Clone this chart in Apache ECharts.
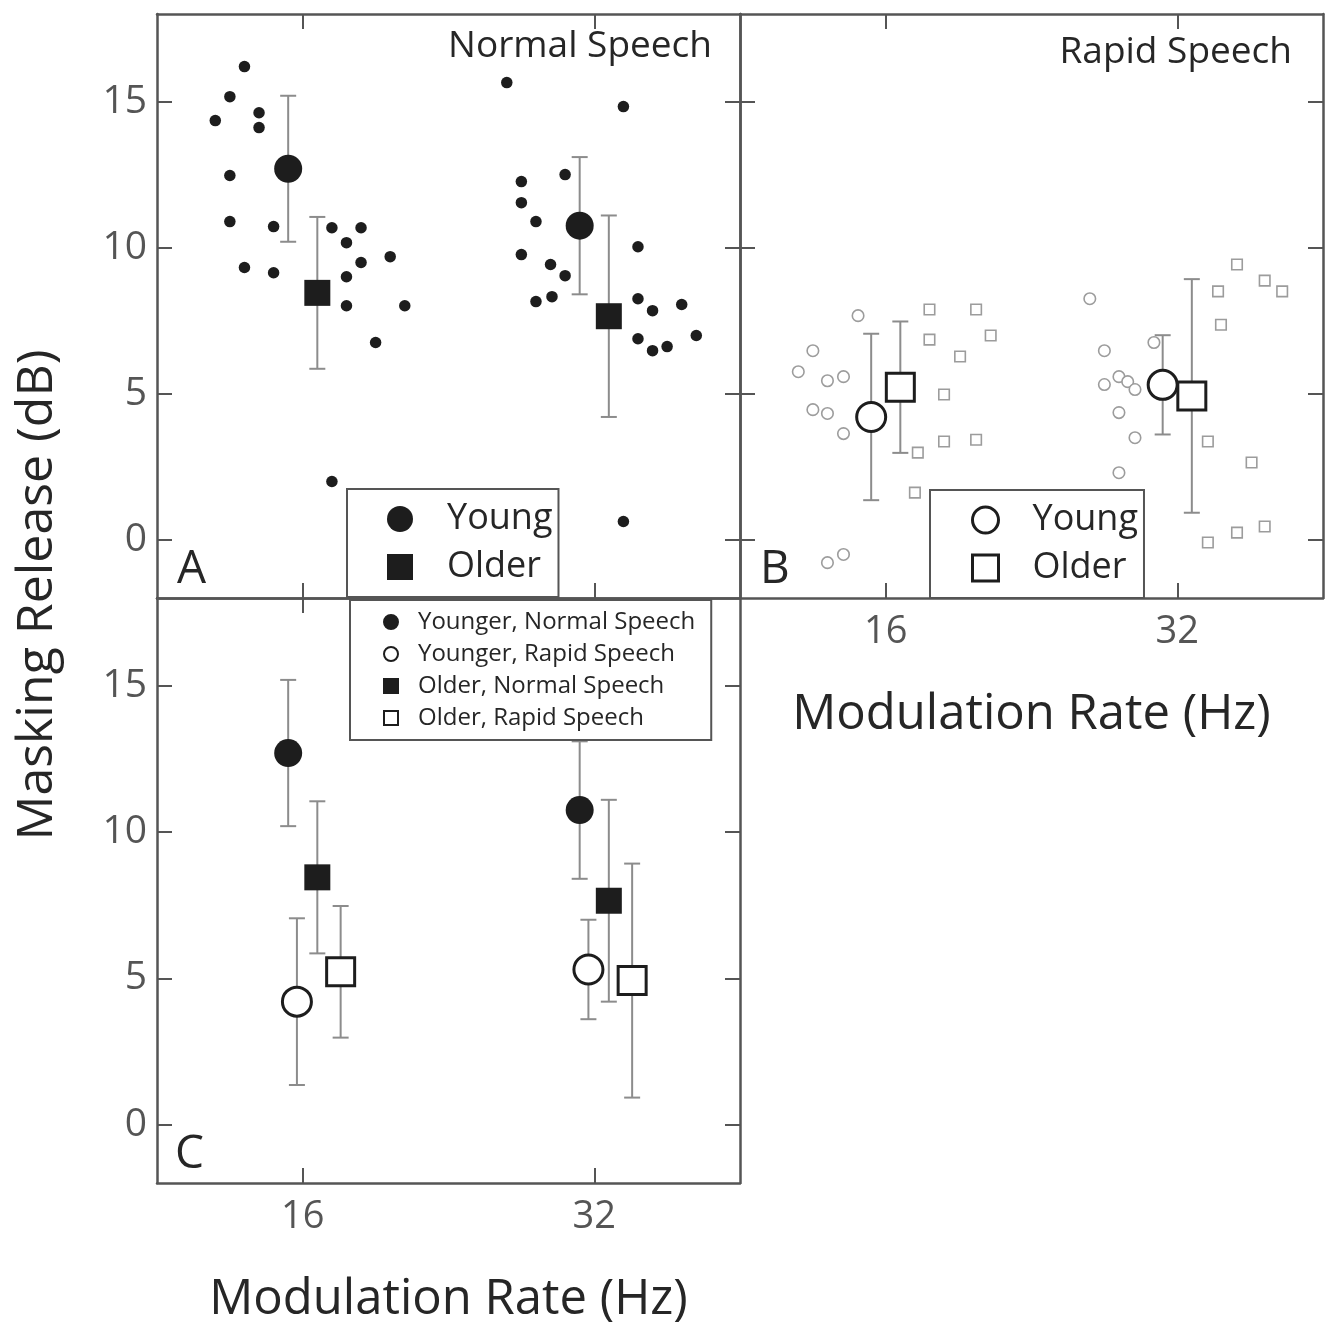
<!DOCTYPE html>
<html>
<head>
<meta charset="utf-8">
<script src="https://cdn.jsdelivr.net/npm/echarts@6/dist/echarts.min.js"></script>
<style>
html, body { margin: 0; background: #fff; }
#main { width: 1334px; height: 1323px; }
</style>
</head>
<body>
<div id="main"></div>
<script>
// modulation rates, x axis runs in octaves (log2 Hz)
var rates = [16, 32];
var yTicks = [0, 5, 10, 15];

// single listeners: [x position in log2(Hz) incl. jitter, masking release dB]
var youngNormalPts = [
  [3.80, 16.2], [3.75, 15.17], [3.70, 14.35], [3.85, 14.62], [3.85, 14.11],
  [3.75, 12.47], [3.75, 10.89], [3.90, 10.72], [3.80, 9.32], [3.90, 9.14],
  [4.70, 15.65], [4.75, 12.26], [4.90, 12.5], [4.75, 11.54], [4.80, 10.89],
  [4.75, 9.76], [4.85, 9.42], [4.90, 9.04], [4.80, 8.15], [4.855, 8.32]
];
var olderNormalPts = [
  [4.10, 10.68], [4.20, 10.68], [4.15, 10.17], [4.30, 9.69], [4.20, 9.49],
  [4.15, 9.0], [4.15, 8.01], [4.35, 8.01], [4.25, 6.75], [4.10, 1.99],
  [5.10, 14.83], [5.15, 10.03], [5.15, 8.25], [5.20, 7.84], [5.30, 8.05],
  [5.15, 6.88], [5.20, 6.47], [5.25, 6.61], [5.35, 6.99], [5.10, 0.62]
];
var youngRapidPts = [
  [3.905, 7.67], [3.75, 6.47], [3.70, 5.75], [3.80, 5.44], [3.855, 5.58],
  [3.75, 4.45], [3.80, 4.32], [3.855, 3.63], [3.80, -0.79], [3.855, -0.51],
  [4.70, 8.25], [4.75, 6.47], [4.92, 6.75], [4.75, 5.31], [4.80, 5.58],
  [4.83, 5.41], [4.855, 5.14], [4.80, 4.35], [4.855, 3.49], [4.80, 2.29]
];
var olderRapidPts = [
  [4.15, 7.88], [4.31, 7.88], [4.36, 6.99], [4.15, 6.85], [4.255, 6.27],
  [4.20, 4.97], [4.20, 3.36], [4.31, 3.42], [4.11, 2.98], [4.10, 1.61],
  [5.205, 9.42], [5.14, 8.5], [5.30, 8.87], [5.36, 8.5], [5.15, 7.36],
  [5.105, 3.36], [5.255, 2.64], [5.105, -0.1], [5.205, 0.24], [5.30, 0.45]
];

// group means and SD, one value per rate
var youngNormalMean = [12.7, 10.75];
var youngNormalSD = [2.5, 2.35];
var olderNormalMean = [8.45, 7.65];
var olderNormalSD = [2.6, 3.45];
var youngRapidMean = [4.2, 5.3];
var youngRapidSD = [2.85, 1.7];
var olderRapidMean = [5.22, 4.92];
var olderRapidSD = [2.25, 4.0];

var FONT = '"Open Sans", "DejaVu Sans", sans-serif';
var INK = '#262626';
var AXIS = '#555';
var BAR = '#8c8c8c';
var DOT = '#1d1d1d';
var PALE = '#9c9c9c';
var SQUARE = 'path://M0,0H10V10H0Z';

function oct(hz) { return Math.log(hz) / Math.LN2; }
var rateTicks = rates.map(oct);

var grids = [
  { left: 157, top: 14, width: 583, height: 584, outerBoundsMode: 'none' },  // A
  { left: 740, top: 14, width: 583, height: 584, outerBoundsMode: 'none' },  // B
  { left: 157, top: 598, width: 583, height: 585, outerBoundsMode: 'none' }  // C
];

var xAxes = [], yAxes = [];
grids.forEach(function (g, i) {
  ['bottom', 'top'].forEach(function (pos) {
    var labelled = pos === 'bottom' && i > 0;
    xAxes.push({
      gridIndex: i, type: 'value', position: pos, min: 3.5, max: 5.5,
      axisLine: { show: true, onZero: false, lineStyle: { color: AXIS, width: 2.5 } },
      axisTick: { show: true, inside: true, length: 15, customValues: rateTicks, lineStyle: { color: AXIS, width: 2 } },
      axisLabel: {
        show: labelled, customValues: rateTicks, margin: 15,
        fontSize: 38, color: '#555', fontFamily: FONT,
        formatter: function (v) { return String(Math.round(Math.pow(2, v))); }
      },
      splitLine: { show: false },
      name: labelled ? 'Modulation Rate (Hz)' : '',
      nameLocation: 'middle', nameGap: 93,
      nameTextStyle: { fontSize: 49, color: INK, fontFamily: FONT }
    });
  });
  ['left', 'right'].forEach(function (pos) {
    yAxes.push({
      gridIndex: i, type: 'value', position: pos, min: -2, max: 18,
      axisLine: { show: true, onZero: false, lineStyle: { color: AXIS, width: 2.5 } },
      axisTick: { show: true, inside: true, length: 15, customValues: yTicks, lineStyle: { color: AXIS, width: 2 } },
      axisLabel: {
        show: pos === 'left' && i !== 1, customValues: yTicks, margin: 10,
        fontSize: 39, color: '#555', fontFamily: FONT
      },
      splitLine: { show: false }
    });
  });
});

function errRender(params, api) {
  var x = api.value(0);
  var lo = api.coord([x, api.value(1)]);
  var hi = api.coord([x, api.value(2)]);
  var w = 8;
  var st = { stroke: BAR, lineWidth: 2 };
  return {
    type: 'group',
    children: [
      { type: 'line', shape: { x1: lo[0], y1: lo[1], x2: hi[0], y2: hi[1] }, style: st },
      { type: 'line', shape: { x1: lo[0] - w, y1: lo[1], x2: lo[0] + w, y2: lo[1] }, style: st },
      { type: 'line', shape: { x1: hi[0] - w, y1: hi[1], x2: hi[0] + w, y2: hi[1] }, style: st }
    ]
  };
}

function errSeries(gi, mean, sd, dodge) {
  return {
    type: 'custom', xAxisIndex: gi * 2, yAxisIndex: gi * 2, z: 3, silent: true,
    renderItem: errRender, encode: { x: 0, y: [1, 2] },
    data: mean.map(function (m, k) { return [oct(rates[k]) + dodge, m - sd[k], m + sd[k]]; })
  };
}

function meanSeries(gi, name, mean, dodge, symbol, size, filled) {
  return {
    type: 'scatter', name: name, xAxisIndex: gi * 2, yAxisIndex: gi * 2, z: 4,
    symbol: symbol, symbolSize: size, silent: true,
    itemStyle: filled
      ? { color: DOT, borderColor: DOT, borderWidth: 0, opacity: 1 }
      : { color: '#fff', borderColor: DOT, borderWidth: 3, opacity: 1 },
    data: mean.map(function (m, k) { return [oct(rates[k]) + dodge, m]; })
  };
}

function ptSeries(gi, data, symbol, size, filled) {
  return {
    type: 'scatter', xAxisIndex: gi * 2, yAxisIndex: gi * 2, z: 2,
    symbol: symbol, symbolSize: size, silent: true,
    itemStyle: filled
      ? { color: DOT, opacity: 1 }
      : { color: '#fff', borderColor: PALE, borderWidth: 1.6, opacity: 1 },
    data: data
  };
}

var series = [
  // A: normal speech
  ptSeries(0, youngNormalPts, 'circle', 11.5, true),
  ptSeries(0, olderNormalPts, 'circle', 11.5, true),
  errSeries(0, youngNormalMean, youngNormalSD, -0.05),
  errSeries(0, olderNormalMean, olderNormalSD, 0.05),
  meanSeries(0, 'Young normal', youngNormalMean, -0.05, 'circle', 28, true),
  meanSeries(0, 'Older normal', olderNormalMean, 0.05, 'rect', 26, true),
  // B: rapid speech
  ptSeries(1, youngRapidPts, 'circle', 11.5, false),
  ptSeries(1, olderRapidPts, 'rect', 10.5, false),
  errSeries(1, youngRapidMean, youngRapidSD, -0.05),
  errSeries(1, olderRapidMean, olderRapidSD, 0.05),
  meanSeries(1, 'Young rapid', youngRapidMean, -0.05, 'circle', 29, false),
  meanSeries(1, 'Older rapid', olderRapidMean, 0.05, 'rect', 28, false),
  // C: all group means
  errSeries(2, youngNormalMean, youngNormalSD, -0.05),
  errSeries(2, youngRapidMean, youngRapidSD, -0.02),
  errSeries(2, olderNormalMean, olderNormalSD, 0.05),
  errSeries(2, olderRapidMean, olderRapidSD, 0.13),
  meanSeries(2, 'Younger, Normal Speech', youngNormalMean, -0.05, 'circle', 28, true),
  meanSeries(2, 'Younger, Rapid Speech', youngRapidMean, -0.02, 'circle', 29, false),
  meanSeries(2, 'Older, Normal Speech', olderNormalMean, 0.05, 'rect', 26, true),
  meanSeries(2, 'Older, Rapid Speech', olderRapidMean, 0.13, 'rect', 28, false)
];

function boxLegend(extra) {
  var base = {
    orient: 'vertical', selectedMode: false, symbolKeepAspect: true,
    backgroundColor: '#fff', borderColor: AXIS, borderWidth: 2, borderRadius: 0,
    textStyle: { color: INK, fontFamily: FONT }
  };
  for (var k in extra) base[k] = extra[k];
  return base;
}

var legends = [
  boxLegend({
    data: [{ name: 'Young normal', icon: 'circle' }, { name: 'Older normal', icon: SQUARE }],
    left: 347, top: 489,
    padding: [12, 6, 12, 40], itemWidth: 84, itemHeight: 26, itemGap: 12,
    formatter: function (n) { return n.split(' ')[0]; },
    textStyle: { color: INK, fontFamily: FONT, fontSize: 36 }
  }),
  boxLegend({
    data: [{ name: 'Young rapid', icon: 'circle' }, { name: 'Older rapid', icon: SQUARE }],
    left: 930, top: 490,
    padding: [12, 6, 12, 41], itemWidth: 84, itemHeight: 26, itemGap: 12,
    itemStyle: { borderWidth: 3 },
    formatter: function (n) { return n.split(' ')[0]; },
    textStyle: { color: INK, fontFamily: FONT, fontSize: 36 }
  }),
  boxLegend({
    data: [
      { name: 'Younger, Normal Speech', icon: 'circle' },
      { name: 'Younger, Rapid Speech', icon: 'circle' },
      { name: 'Older, Normal Speech', icon: SQUARE },
      { name: 'Older, Rapid Speech', icon: SQUARE }
    ],
    left: 350, top: 600, padding: [10, 16, 10, 33], itemWidth: 44, itemHeight: 14, itemGap: 8,
    itemStyle: { borderWidth: 2 },
    textStyle: { color: INK, fontFamily: FONT, fontSize: 24 }
  })
];

function label(txt, x, y, size, align, rot) {
  return {
    type: 'text', x: x, y: y, rotation: rot || 0, z: 10, silent: true,
    style: {
      text: txt, fontSize: size, fontFamily: FONT, fill: INK,
      align: align, textAlign: align, verticalAlign: 'middle', textVerticalAlign: 'middle'
    }
  };
}

var chart = echarts.init(document.getElementById('main'), null, { renderer: 'canvas' });
chart.setOption({
  backgroundColor: '#fff',
  animation: false,
  grid: grids,
  xAxis: xAxes,
  yAxis: yAxes,
  legend: legends,
  series: series,
  graphic: [
    label('Normal Speech', 712, 46, 37, 'right'),
    label('Rapid Speech', 1292, 52, 37, 'right'),
    label('A', 177, 570, 46, 'left'),
    label('B', 760, 570, 46, 'left'),
    label('C', 175, 1155, 46, 'left'),
    label('Masking Release (dB)', 38, 595, 50, 'center', Math.PI / 2)
  ]
});
window.onresize = chart.resize;
</script>
</body>
</html>
